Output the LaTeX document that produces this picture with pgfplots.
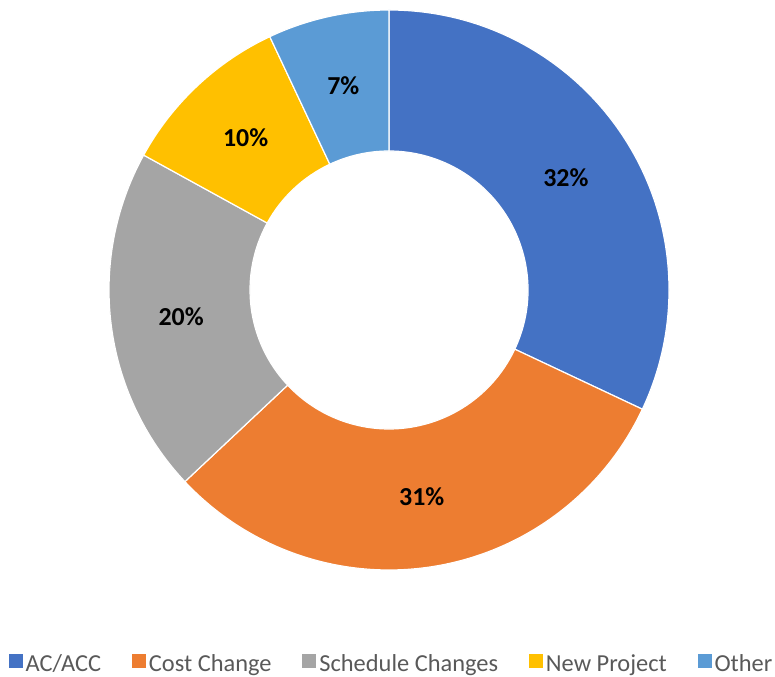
\documentclass[border=0pt]{standalone}
\usepackage{pgfplots}
\pgfplotsset{compat=1.18}
\usepackage{pgfplotstable}
\usepackage{fontspec}
\setmainfont{Carlito}
\definecolor{c0}{HTML}{4472C4}
\definecolor{c1}{HTML}{ED7D31}
\definecolor{c2}{HTML}{A5A5A5}
\definecolor{c3}{HTML}{FFC000}
\definecolor{c4}{HTML}{5B9BD5}
\definecolor{legtext}{HTML}{595959}
\pgfplotstableread[col sep=comma]{
label,value
AC/ACC,32
Cost Change,31
Schedule Changes,20
New Project,10
Other,7
}\donutdata
% cumulative angles (clockwise from top)
\def\cumul{0}
\foreach \i in {0,...,4}{%
  \pgfplotstablegetelem{\i}{value}\of\donutdata
  \pgfmathsetmacro{\va}{90-3.6*\cumul}%
  \pgfmathsetmacro{\vb}{90-3.6*(\cumul+\pgfplotsretval)}%
  \pgfmathsetmacro{\newc}{\cumul+\pgfplotsretval}%
  \expandafter\xdef\csname angA\i\endcsname{\va}%
  \expandafter\xdef\csname angB\i\endcsname{\vb}%
  \expandafter\xdef\csname pct\i\endcsname{\pgfplotsretval}%
  \xdef\cumul{\newc}%
}
\def\cx{389}\def\cy{387}\def\Ro{280}\def\Ri{139}
\begin{document}
\begin{tikzpicture}
\begin{axis}[
  width=775bp, height=677bp, scale only axis,
  xmin=0, xmax=775, ymin=0, ymax=677,
  hide axis, clip=false,
  legend columns=5,
  legend style={at={(axis cs:392,0)}, anchor=south, draw=none, fill=none,
    font=\fontsize{24.5}{29}\selectfont\color{legtext},
    /tikz/every even column/.append style={column sep=27.8bp},
    /tikz/every odd column/.append style={column sep=0bp},
    nodes={inner xsep=3bp}},
  legend image code/.code={\fill[#1, draw=none] (0bp,-4bp) rectangle (14bp,10bp);},
]
\addlegendimage{fill=c0}\addlegendentry{AC/ACC}
\addlegendimage{fill=c1}\addlegendentry{Cost Change}
\addlegendimage{fill=c2}\addlegendentry{Schedule Changes}
\addlegendimage{fill=c3}\addlegendentry{New Project}
\addlegendimage{fill=c4}\addlegendentry{Other}
\pgfplotsinvokeforeach{0,...,4}{
  \fill[c#1, draw=white, line width=1.2bp]
    (axis cs:{\cx+\Ro*cos(\csname angA#1\endcsname)},{\cy+\Ro*sin(\csname angA#1\endcsname)})
    arc[start angle=\csname angA#1\endcsname, end angle=\csname angB#1\endcsname, radius=\Ro bp]
    -- (axis cs:{\cx+\Ri*cos(\csname angB#1\endcsname)},{\cy+\Ri*sin(\csname angB#1\endcsname)})
    arc[start angle=\csname angB#1\endcsname, end angle=\csname angA#1\endcsname, radius=\Ri bp]
    -- cycle;
  \node[font=\fontsize{26}{30}\selectfont\bfseries, text=black]
    at (axis cs:{\cx+209.5*cos((\csname angA#1\endcsname+\csname angB#1\endcsname)/2)},{\cy+209.5*sin((\csname angA#1\endcsname+\csname angB#1\endcsname)/2)})
    {\csname pct#1\endcsname\%};
}
\end{axis}
\pgfresetboundingbox
\path (current axis.south west) rectangle (current axis.north east);
\end{tikzpicture}
\end{document}
